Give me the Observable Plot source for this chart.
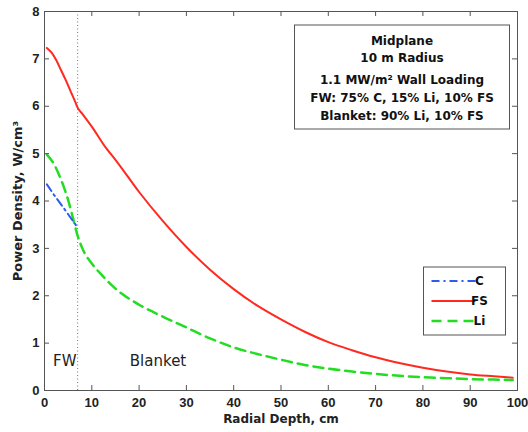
<!DOCTYPE html>
<html><head><meta charset="utf-8">
<script src="https://cdn.jsdelivr.net/npm/d3@7"></script>
<script src="https://cdn.jsdelivr.net/npm/@observablehq/plot@0.6"></script>
<style>
body{margin:0;background:#fff;}
</style>
</head><body><div id="chart"></div>
<script>
// ---- data ----
const depthC = [0.5, 2, 4, 6, 7];
const cValues = [4.35, 4.13, 3.86, 3.58, 3.44];

const depthFS = [0.5, 1.5, 2.5, 3.5, 4.5, 5.5, 6.5, 7, 8, 10, 13, 15, 20, 25, 30, 35, 40, 45, 50, 55, 60, 65, 70, 75, 80, 85, 90, 95, 99];
const fsValues = [7.23, 7.13, 6.97, 6.76, 6.55, 6.32, 6.09, 5.97, 5.84, 5.57, 5.12, 4.87, 4.19, 3.58, 3.03, 2.55, 2.14, 1.79, 1.5, 1.24, 1.02, 0.85, 0.70, 0.58, 0.48, 0.40, 0.34, 0.30, 0.27];

const depthLi = [0.5, 2, 3, 4, 5, 6, 7, 8, 10, 12, 15, 20, 25, 30, 35, 40, 45, 50, 55, 60, 65, 70, 75, 80, 85, 90, 95, 99];
const liValues = [4.98, 4.78, 4.57, 4.32, 4.02, 3.65, 3.27, 3.0, 2.68, 2.45, 2.15, 1.81, 1.56, 1.33, 1.10, 0.91, 0.77, 0.65, 0.54, 0.46, 0.40, 0.35, 0.31, 0.28, 0.26, 0.24, 0.23, 0.22];

const xTicks = [0, 10, 20, 30, 40, 50, 60, 70, 80, 90, 100];
const yTicks = [0, 1, 2, 3, 4, 5, 6, 7, 8];
const fwBoundary = [7];

const regionLabels = ["FW", "Blanket"];
const regionX = [4.3, 24];
const regionY = [0.61, 0.61];

const infoLines = ["Midplane", "10 m Radius", "1.1 MW/m\u00B2 Wall Loading", "FW: 75% C, 15% Li, 10% FS", "Blanket: 90% Li, 10% FS"];

const seriesNames = ["C", "FS", "Li"];
const seriesColors = ["#2a5cf0", "#ff2a1f", "#22dd22"];
const seriesDash = ["8,4,2,4", "none", "10,6"];
const seriesWidth = [2, 2, 2.5];

const xLabel = "Radial Depth, cm";
const yLabel = "Power Density, W/cm\u00B3";

// ---- build ----
const W = 528, H = 432;
const mt = 11, mb = 42, ml = 44, mr = 11;
const plotH = H - mt - mb, plotW = W - ml - mr;

const seriesData = [
  depthC.map((x, i) => ({x, y: cValues[i]})),
  depthFS.map((x, i) => ({x, y: fsValues[i]})),
  depthLi.map((x, i) => ({x, y: liValues[i]}))
];
const regions = regionLabels.map((t, i) => ({t, x: regionX[i], y: regionY[i]}));

const boxFont = "DejaVu Sans, Verdana, sans-serif";

function infoBox(index, scales, values, dim) {
  const g = d3.create("svg:g");
  const bw = 215, bh = 104;
  const bx = dim.width - dim.marginRight - 7.5 - bw;
  const by = dim.marginTop + 14;
  g.append("rect").attr("x", bx).attr("y", by).attr("width", bw).attr("height", bh)
    .attr("fill", "white").attr("stroke", "#555").attr("stroke-width", 1);
  const offs = [15.5, 32.5, 55, 73, 90.5];
  infoLines.forEach((t, i) => {
    g.append("text").attr("x", bx + bw / 2).attr("y", by + offs[i]).attr("dy", "0.35em")
      .attr("text-anchor", "middle").attr("font-family", boxFont).attr("font-weight", "bold")
      .attr("font-size", 12).attr("fill", "#111").text(t);
  });
  return g.node();
}

function legendBox(index, scales, values, dim) {
  const g = d3.create("svg:g");
  const bw = 82, bh = 68;
  const bx = dim.width - dim.marginRight - 11.5 - bw;
  const by = dim.height - dim.marginBottom - 55 - bh;
  g.append("rect").attr("x", bx).attr("y", by).attr("width", bw).attr("height", bh)
    .attr("fill", "white").attr("stroke", "#555").attr("stroke-width", 1);
  seriesNames.forEach((n, i) => {
    const yy = by + 14 + i * 20;
    g.append("line").attr("x1", bx + 8).attr("x2", bx + 52).attr("y1", yy).attr("y2", yy)
      .attr("stroke", seriesColors[i]).attr("stroke-width", seriesWidth[i])
      .attr("stroke-dasharray", seriesDash[i]);
    g.append("text").attr("x", bx + 56).attr("y", yy).attr("dy", "0.35em")
      .attr("font-family", boxFont).attr("font-weight", "bold").attr("font-size", 12)
      .attr("fill", "#111").text(n);
  });
  return g.node();
}

const chart = Plot.plot({
  width: W, height: H,
  marginTop: mt, marginBottom: mb, marginLeft: ml, marginRight: mr,
  style: {background: "white", fontFamily: "Liberation Sans, Arial, sans-serif", color: "#222"},
  x: {domain: [0, 100]},
  y: {domain: [0, 8]},
  marks: [
    Plot.ruleX(fwBoundary, {x: d => d, stroke: "#777", strokeDasharray: "1,2.5", strokeWidth: 1}),
    Plot.line(seriesData[1], {x: "x", y: "y", stroke: seriesColors[1], strokeWidth: seriesWidth[1], curve: "monotone-x"}),
    Plot.line(seriesData[2], {x: "x", y: "y", stroke: seriesColors[2], strokeWidth: seriesWidth[2], strokeDasharray: seriesDash[2], curve: "monotone-x"}),
    Plot.line(seriesData[0], {x: "x", y: "y", stroke: seriesColors[0], strokeWidth: seriesWidth[0], strokeDasharray: seriesDash[0]}),
    Plot.text(regions, {x: "x", y: "y", text: "t", fontSize: 15, fontFamily: boxFont, fill: "#222"}),
    // inward ticks on all four sides
    Plot.ruleX(xTicks, {x: d => d, insetTop: plotH - 5, stroke: "#555"}),
    Plot.ruleX(xTicks, {x: d => d, insetBottom: plotH - 5, stroke: "#555"}),
    Plot.ruleY(yTicks, {y: d => d, insetRight: plotW - 5, stroke: "#555"}),
    Plot.ruleY(yTicks, {y: d => d, insetLeft: plotW - 5, stroke: "#555"}),
    Plot.frame({stroke: "#555", strokeWidth: 1}),
    Plot.axisX({ticks: xTicks, tickSize: 0, tickPadding: 7, label: null, fontSize: 13, fontWeight: "bold"}),
    Plot.axisY({ticks: yTicks, tickSize: 0, tickPadding: 5, label: null, fontSize: 13, fontWeight: "bold"}),
    Plot.text([xLabel], {frameAnchor: "bottom", dy: 29, lineAnchor: "middle", textAnchor: "middle", fontSize: 12, fontWeight: "bold", fontFamily: boxFont, fill: "#222"}),
    Plot.text([yLabel], {frameAnchor: "left", dx: -27, rotate: -90, textAnchor: "middle", lineAnchor: "middle", fontSize: 13, fontWeight: "bold", fontFamily: boxFont, fill: "#222"}),
    infoBox,
    legendBox
  ]
});
document.getElementById("chart").append(chart);
</script>
</body></html>
